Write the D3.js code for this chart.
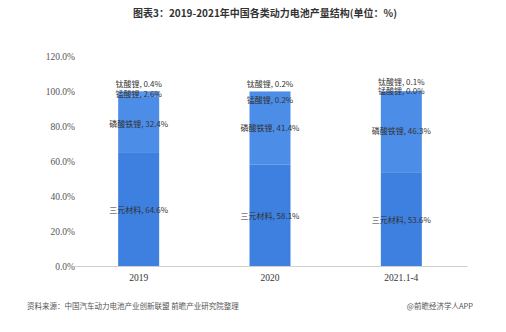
<!DOCTYPE html>
<html><head><meta charset="utf-8">
<script src="https://cdn.jsdelivr.net/npm/d3@7"></script>
<style>body{margin:0;background:#fff}svg{display:block}</style>
</head><body>
<script>
const categories = ["2019", "2020", "2021.1-4"];
const seriesNames = ["三元材料", "磷酸铁锂", "锰酸锂", "钛酸锂"];
const ternary = [64.6, 58.1, 53.6];
const lfp = [32.4, 41.4, 46.3];
const lmo = [2.6, 0.2, 0.0];
const lto = [0.4, 0.2, 0.1];
const yTicks = [0, 20, 40, 60, 80, 100, 120];
const title = "图表3：2019-2021年中国各类动力电池产量结构(单位：%)";
const source = "资料来源：中国汽车动力电池产业创新联盟 前瞻产业研究院整理";
const brand = "@前瞻经济学人APP";

const W = 506, H = 332;
const svg = d3.select("body").append("svg").attr("width", W).attr("height", H);
const font = "'Noto Sans CJK SC', sans-serif";

const x = d3.scaleBand().domain(categories).range([73, 467]);
const y = d3.scaleLinear().domain([0, 120]).range([266, 56]);
const barW = 41;
const colors = ["#3d80e0", "#4c8de8", "#5a96ea", "#6aa2ee"];
const series = [ternary, lfp, lmo, lto];

// title
svg.append("text").attr("x", 265).attr("y", 17).attr("text-anchor", "middle")
  .attr("font-family", font).attr("font-size", 10).attr("font-weight", "bold")
  .attr("fill", "#333").text(title);

// y axis labels
const yAxis = d3.axisLeft(y).tickValues(yTicks).tickFormat(d => d.toFixed(1) + "%").tickSize(0).tickPadding(0);
const ga = svg.append("g").attr("transform", "translate(77,0)").call(yAxis);
ga.select(".domain").remove();
ga.selectAll("text").attr("font-family", "'Liberation Serif', serif").attr("font-size", 9.5).attr("fill", "#555").attr("x", -2);

// bars
categories.forEach((c, i) => {
  let base = 0;
  series.forEach((s, k) => {
    const v = s[i];
    svg.append("rect").attr("x", x(c) + x.bandwidth() / 2 - barW / 2)
      .attr("y", y(base + v)).attr("width", barW).attr("height", y(base) - y(base + v))
      .attr("fill", colors[k]);
    base += v;
  });
});

// x axis
const xAxis = d3.axisBottom(x).tickSize(0).tickPadding(8);
const gx = svg.append("g").attr("transform", "translate(0,266)").call(xAxis);
gx.select(".domain").attr("stroke", "#d0d0d0");
gx.selectAll("text").attr("font-family", "'Liberation Serif', serif").attr("font-size", 9.5).attr("fill", "#333");

// labels
const lblFont = 8;
function label(cx, cy, name, v) {
  svg.append("text").attr("x", cx).attr("y", cy).attr("text-anchor", "middle")
    .attr("dominant-baseline", "central").attr("font-family", font).attr("font-size", lblFont)
    .attr("fill", "#333").text(name + ", " + v.toFixed(1) + "%");
}
const ltoY = [83, 83, 81];
const lmoY = [93, 99, 90.5];
categories.forEach((c, i) => {
  const cx = x(c) + x.bandwidth() / 2;
  label(cx, (y(0) + y(ternary[i])) / 2, seriesNames[0], ternary[i]);
  label(cx, (y(ternary[i]) + y(ternary[i] + lfp[i])) / 2 - 1, seriesNames[1], lfp[i]);
  label(cx, lmoY[i], seriesNames[2], lmo[i]);
  label(cx, ltoY[i], seriesNames[3], lto[i]);
});

// footer
svg.append("text").attr("x", 27).attr("y", 309).attr("font-family", font).attr("font-size", 7.5)
  .attr("fill", "#555").text(source);
svg.append("text").attr("x", 473).attr("y", 309).attr("text-anchor", "end").attr("font-family", font)
  .attr("font-size", 7.5).attr("fill", "#555").text(brand);
</script>
</body></html>
